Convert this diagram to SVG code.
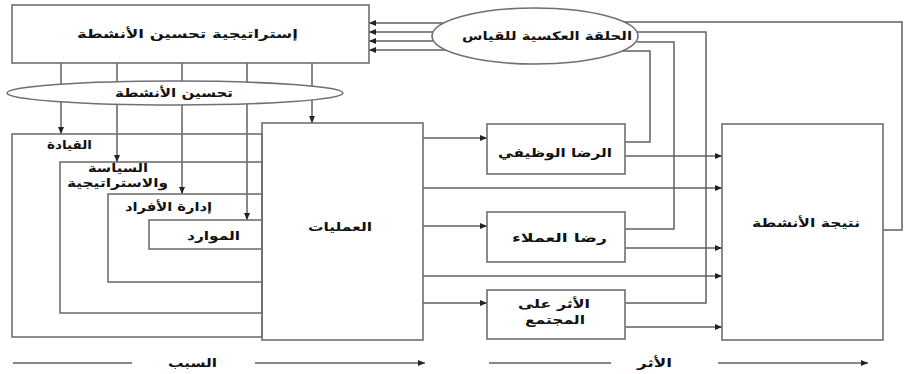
<svg xmlns="http://www.w3.org/2000/svg" width="904" height="374" viewBox="0 0 904 374">
<defs>
<marker id="ah" markerWidth="7" markerHeight="6" refX="7" refY="3" orient="auto" markerUnits="userSpaceOnUse">
<path d="M0,0 L7,3 L0,6 z" fill="#222"/>
</marker>
<style>
.box{fill:none;stroke:#707070;stroke-width:1.6}
.wbox{fill:#fff;stroke:#707070;stroke-width:1.6}
.ln{fill:none;stroke:#606060;stroke-width:1.5}
.ar{fill:none;stroke:#606060;stroke-width:1.5;marker-end:url(#ah)}
text{font-family:"DejaVu Sans","Noto Sans",sans-serif;font-weight:bold;font-size:12px;fill:#111;text-anchor:middle}
</style>
</defs>
<rect width="904" height="374" fill="#fff"/>

<g id="connectors">
<line class="ar" x1="61" y1="63" x2="61" y2="134"/>
<line class="ar" x1="117" y1="63" x2="117" y2="162"/>
<line class="ar" x1="182" y1="63" x2="182" y2="194"/>
<line class="ar" x1="247" y1="63" x2="247" y2="220"/>
<line class="ar" x1="312" y1="63" x2="312" y2="123"/>
<line class="ar" x1="444" y1="23" x2="369" y2="23"/>
<line class="ar" x1="433" y1="32" x2="369" y2="32"/>
<line class="ar" x1="434" y1="41" x2="369" y2="41"/>
<line class="ar" x1="446" y1="50" x2="369" y2="50"/>
<line class="ar" x1="423" y1="138" x2="487" y2="138"/>
<line class="ar" x1="423" y1="226" x2="487" y2="226"/>
<line class="ar" x1="423" y1="303" x2="487" y2="303"/>
<line class="ar" x1="423" y1="188" x2="722" y2="188"/>
<line class="ar" x1="423" y1="276" x2="722" y2="276"/>
<line class="ar" x1="625" y1="156" x2="722" y2="156"/>
<line class="ar" x1="625" y1="248" x2="722" y2="248"/>
<line class="ar" x1="625" y1="327" x2="722" y2="327"/>
<polyline class="ln" points="625,142 650,142 650,51 622,51"/>
<polyline class="ln" points="625,229 674,229 674,42 637,42"/>
<polyline class="ln" points="625,303 706,303 706,32 637,32"/>
<polyline class="ln" points="883,230 902,230 902,22 624,22"/>
</g>

<g id="strategy">
<rect class="box" x="12" y="5" width="357" height="58"/>
<text x="187.5" y="38" textLength="221" lengthAdjust="spacingAndGlyphs">إستراتيجية تحسين الأنشطة</text>
</g>

<g id="improve-ellipse">
<ellipse class="wbox" cx="175" cy="93" rx="168" ry="12"/>
<text x="174" y="97" textLength="118" lengthAdjust="spacingAndGlyphs">تحسين الأنشطة</text>
</g>

<g id="feedback-ellipse">
<ellipse class="wbox" cx="535" cy="36" rx="103" ry="28"/>
<text x="547" y="40" textLength="170" lengthAdjust="spacingAndGlyphs">الحلقة العكسية للقياس</text>
</g>

<g id="leadership">
<rect class="box" x="12" y="134" width="250" height="203"/>
<text x="69.5" y="149" textLength="45" lengthAdjust="spacingAndGlyphs">القيادة</text>
</g>

<g id="policy">
<rect class="box" x="60" y="162" width="202" height="151"/>
<text x="118" y="172" textLength="60" lengthAdjust="spacingAndGlyphs">السياسة</text>
<text x="117.5" y="187" textLength="101" lengthAdjust="spacingAndGlyphs">والاستراتيجية</text>
</g>

<g id="people">
<rect class="box" x="108" y="194" width="154" height="88"/>
<text x="168.5" y="211" textLength="87" lengthAdjust="spacingAndGlyphs">إدارة الأفراد</text>
</g>

<g id="resources">
<rect class="box" x="149" y="220" width="113" height="29"/>
<text x="213.5" y="240" textLength="53" lengthAdjust="spacingAndGlyphs">الموارد</text>
</g>

<g id="operations">
<rect class="box" x="262" y="123" width="161" height="217"/>
<text x="340" y="231" textLength="64" lengthAdjust="spacingAndGlyphs">العمليات</text>
</g>

<g id="job-satisfaction">
<rect class="box" x="487" y="124" width="138" height="50"/>
<text x="555" y="157" textLength="114" lengthAdjust="spacingAndGlyphs">الرضا الوظيفي</text>
</g>

<g id="customer-satisfaction">
<rect class="box" x="487" y="212" width="138" height="50"/>
<text x="559.5" y="242" textLength="95" lengthAdjust="spacingAndGlyphs">رضا العملاء</text>
</g>

<g id="society-impact">
<rect class="box" x="487" y="290" width="138" height="49"/>
<text x="554" y="308" textLength="72" lengthAdjust="spacingAndGlyphs">الأثر على</text>
<text x="555" y="324" textLength="60" lengthAdjust="spacingAndGlyphs">المجتمع</text>
</g>

<g id="results">
<rect class="box" x="722" y="124" width="161" height="216"/>
<text x="806" y="227" textLength="108" lengthAdjust="spacingAndGlyphs">نتيجة الأنشطة</text>
</g>

<g id="cause-axis">
<line class="ln" x1="13" y1="363" x2="132" y2="363"/>
<text x="192.5" y="367" textLength="49" lengthAdjust="spacingAndGlyphs">السبب</text>
<line class="ar" x1="255" y1="363" x2="425" y2="363"/>
</g>

<g id="effect-axis">
<line class="ln" x1="489" y1="363" x2="611" y2="363"/>
<text x="654.5" y="367" textLength="35" lengthAdjust="spacingAndGlyphs">الأثر</text>
<line class="ar" x1="718" y1="363" x2="868" y2="363"/>
</g>
</svg>
